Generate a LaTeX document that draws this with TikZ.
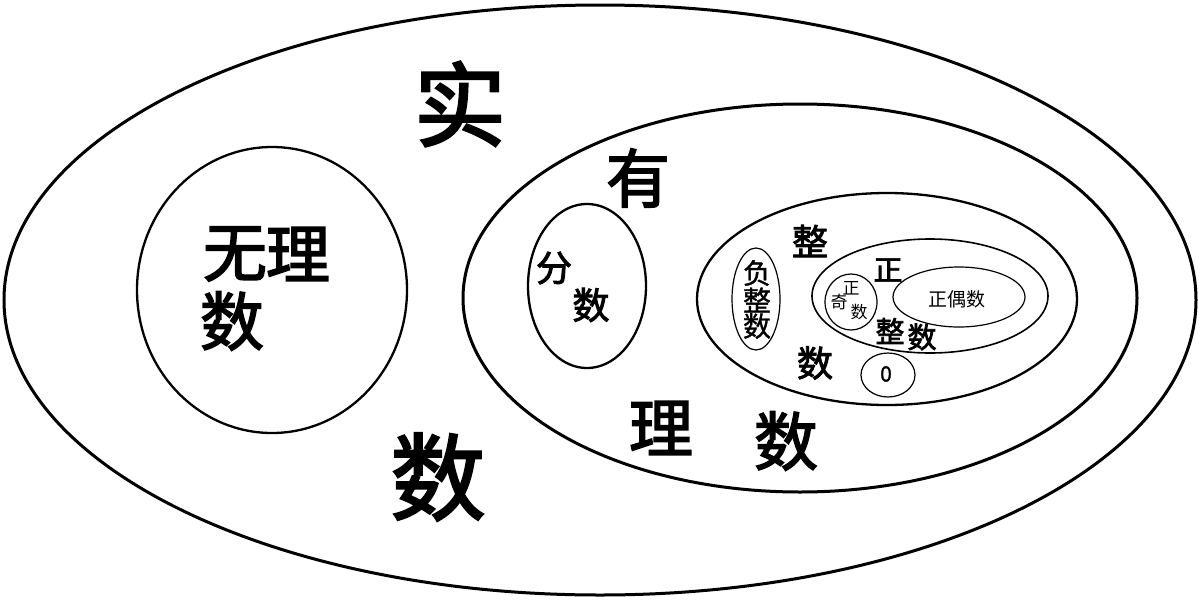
\documentclass[tikz,border=0pt]{standalone}
\usepackage{fontspec}
\newfontfamily\cjk{Noto Sans CJK SC}
\newfontfamily\cjkb[FakeBold=2.5]{Noto Sans CJK SC}
\newfontfamily\cjkm[FakeBold=1.2]{Noto Sans CJK SC}
\newcommand{\fs}[1]{\fontsize{#1}{#1}\selectfont}
\begin{document}
\begin{tikzpicture}[x=1pt,y=-1pt,
  lbl/.style={inner sep=0pt},
  thick3/.style={line width=3pt},
  thick2/.style={line width=2.3pt},
  thick15/.style={line width=1.6pt},
  thin1/.style={line width=1.2pt}]
\useasboundingbox[fill=white] (0,0) rectangle (1200,600);
% ellipses
\draw[thick3] (600,300) ellipse [x radius=596, y radius=295];
\draw[thick2] (272,290) ellipse [x radius=135, y radius=143];
\draw[thick3] (800,298) ellipse [x radius=337, y radius=194];
\draw[thick2] (587,286) ellipse [x radius=59, y radius=82];
\draw[thick2] (887,299) ellipse [x radius=190, y radius=106];
\draw[thick15] (930,296) ellipse [x radius=118, y radius=57];
\draw[thin1] (851,302) ellipse [x radius=26, y radius=28];
\draw[thin1] (959,297) ellipse [x radius=66, y radius=30];
\draw[thin1] (756,299) ellipse [x radius=24, y radius=51];
\draw[thin1] (888,375) ellipse [x radius=27, y radius=22];
% labels
\node[lbl, font=\cjkb\fs{92}] (shi) at (460,104) {实};
\node[lbl, font=\cjkb\fs{95}] (shu) at (438,477) {数};
\node[lbl, font=\cjkb\fs{64}] (wu) at (235,254) {无};
\node[lbl, font=\cjkb\fs{64}] (li1) at (298,254) {理};
\node[lbl, font=\cjkb\fs{64}] (shu1) at (232,321) {数};
\node[lbl, font=\cjkb\fs{64}] (you) at (638,178) {有};
\node[lbl, font=\cjkb\fs{64}] (li2) at (661,428) {理};
\node[lbl, font=\cjkb\fs{64}] (shu2) at (786,441) {数};
\node[lbl, font=\cjkb\fs{36}] (fen) at (554,268) {分};
\node[lbl, font=\cjkb\fs{37}] (shu3) at (591,305) {数};
\node[lbl, font=\cjkb\fs{36}] (zheng) at (810,241) {整};
\node[lbl, font=\cjkb\fs{36}] (shu4) at (815,363) {数};
\node[lbl, font=\cjkm\fs{28}] (fu) at (757,273) {负};
\node[lbl, font=\cjkm\fs{28}] (fz) at (757,300) {整};
\node[lbl, font=\cjkm\fs{28}] (fs) at (757,326) {数};
\node[lbl, font=\cjkb\fs{29}] (zh) at (888,270) {正};
\node[lbl, font=\cjkb\fs{29}] (zz) at (890,331) {整};
\node[lbl, font=\cjkb\fs{29}] (zs) at (922,337) {数};
\node[lbl, font=\cjk\fs{17}] (q1) at (851,288) {正};
\node[lbl, font=\cjk\fs{17}] (q2) at (839,302) {奇};
\node[lbl, font=\cjk\fs{17}] (q3) at (859,312) {数};
\node[lbl, font=\cjk\fs{19}] (ou) at (957,299) {正偶数};
\node[lbl, font=\cjkm\fs{21}] (zero) at (886,374) {0};
\end{tikzpicture}
\end{document}
